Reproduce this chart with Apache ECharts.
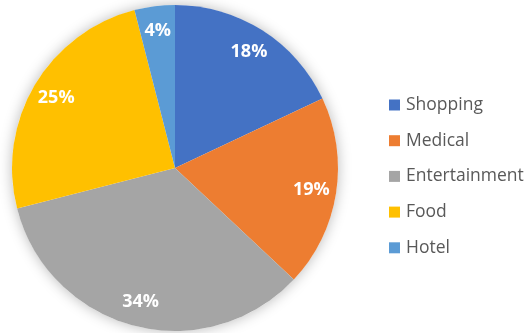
<!DOCTYPE html>
<html>
<head>
<meta charset="utf-8">
<script src="https://cdn.jsdelivr.net/npm/echarts@6/dist/echarts.min.js"></script>
<style>
  html, body { margin: 0; padding: 0; background: #fff; }
  #chart { width: 532px; height: 333px; }
</style>
</head>
<body>
<div id="chart"></div>
<script>
// Spending share by category (percent)
const categories = ['Shopping', 'Medical', 'Entertainment', 'Food', 'Hotel'];
const shares = [18, 19, 34, 25, 4];
const colors = ['#4472C4', '#ED7D31', '#A5A5A5', '#FFC000', '#5B9BD5'];

const center = [175, 168];
const outerRadius = 163;

const slices = categories.map((name, i) => ({ name, value: shares[i] }));

const chart = echarts.init(document.getElementById('chart'), null, { renderer: 'canvas' });
chart.setOption({
  animation: false,
  color: colors,
  legend: {
    data: categories,
    orient: 'vertical',
    left: 389,
    top: 96,
    padding: 0,
    icon: 'rect',
    itemWidth: 11,
    itemHeight: 11,
    itemGap: 17.7,
    textStyle: {
      fontFamily: 'Open Sans',
      fontSize: 17.5,
      lineHeight: 18,
      color: '#595959',
      padding: [0, 0, 0, 1]
    }
  },
  series: [
    {
      // soft drop shadow under the whole disc
      type: 'pie',
      silent: true,
      z: 0,
      center: center,
      radius: [0, outerRadius],
      label: { show: false },
      labelLine: { show: false },
      itemStyle: {
        color: '#ffffff',
        shadowBlur: 14,
        shadowColor: 'rgba(0,0,0,0.28)'
      },
      data: [{ value: 1, name: '' }]
    },
    {
      type: 'pie',
      z: 2,
      center: center,
      radius: [0, outerRadius],
      startAngle: 90,
      clockwise: true,
      label: { show: false },
      labelLine: { show: false },
      itemStyle: { borderWidth: 0 },
      data: slices
    },
    {
      // transparent ring used only to place the percentage labels
      type: 'pie',
      z: 3,
      silent: true,
      center: center,
      radius: [107, outerRadius],
      startAngle: 90,
      clockwise: true,
      itemStyle: { color: 'rgba(0,0,0,0)', borderWidth: 0 },
      label: {
        show: true,
        position: 'inside',
        formatter: p => p.value + '%',
        fontFamily: 'Open Sans',
        fontWeight: 'bold',
        fontSize: 18,
        color: '#ffffff'
      },
      labelLine: { show: false },
      data: slices
    }
  ]
});
</script>
</body>
</html>
